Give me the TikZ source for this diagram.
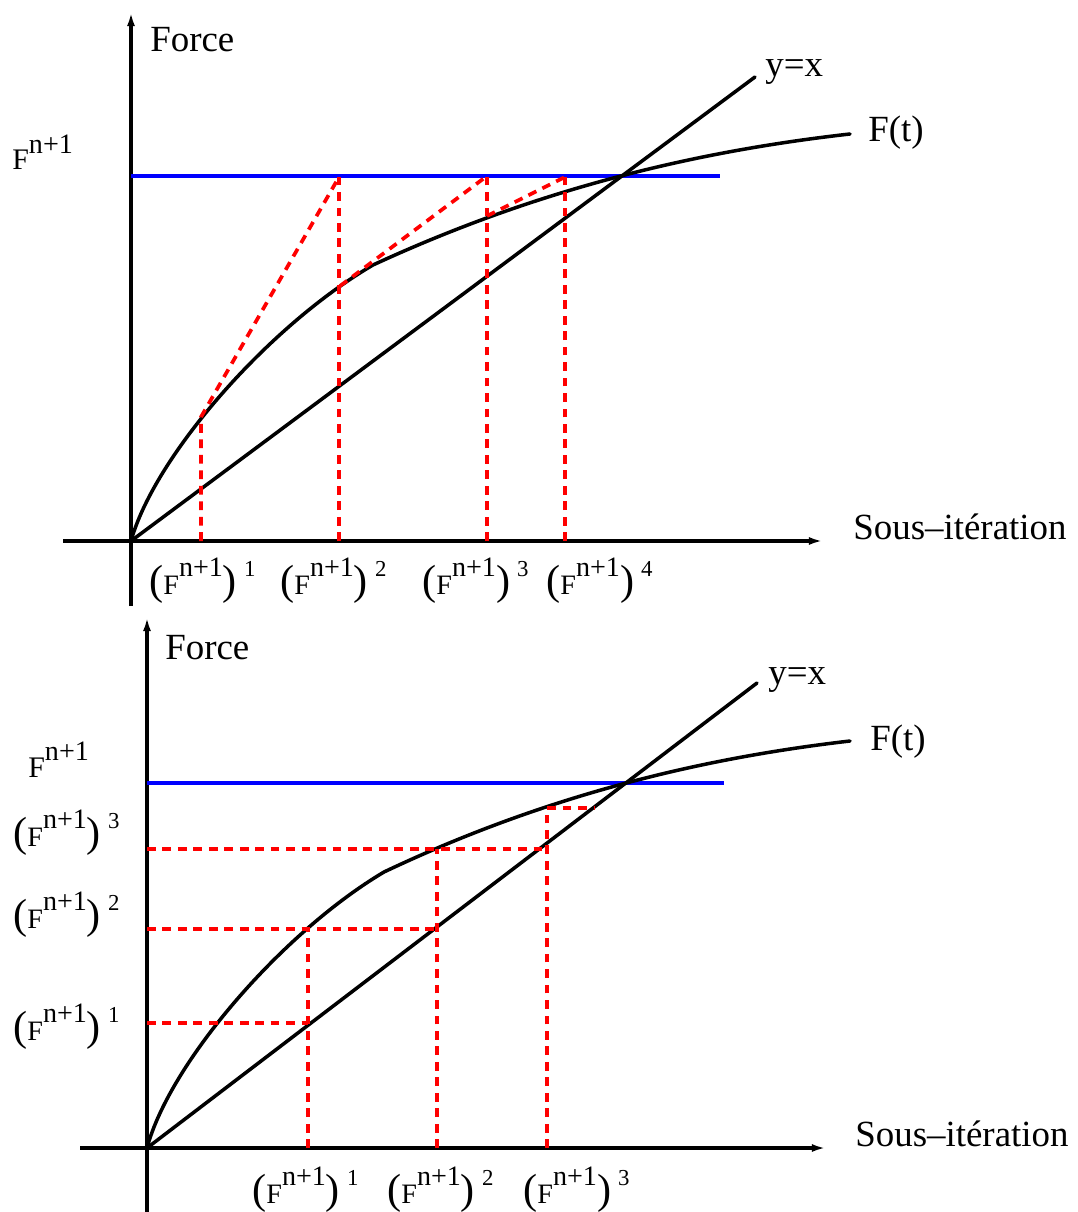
\documentclass[tikz,border=0pt]{standalone}
\usepackage{fontspec}
\setmainfont{Liberation Serif}
\usetikzlibrary{arrows.meta}
% iterate label (F^{n+1})^k and plain F^{n+1}
\newcommand{\Fit}[1]{{\fontsize{24}{24}\selectfont(}{\fontsize{16}{16}\selectfont F}\raisebox{10pt}{\fontsize{16}{16}\selectfont n+1}{\fontsize{24}{24}\selectfont)}\hspace{4pt}\raisebox{10pt}{\fontsize{13}{13}\selectfont #1}}
\newcommand{\Fn}{{\fontsize{17}{17}\selectfont F}\raisebox{9.5pt}{\fontsize{16}{16}\selectfont n+1}}
\begin{document}
\begin{tikzpicture}[x=0.02cm,y=-0.02cm,
    axisArrow/.style={-{Latex[length=8pt,width=4.5pt]},line width=1.8pt},
    curveLine/.style={line width=2pt,line join=round,line cap=round},
    levelLine/.style={blue,line width=2pt},
    iterLine/.style={red,line width=2.1pt,dash pattern=on 5pt off 3.8pt},
    axisLabel/.style={font=\fontsize{21}{25}\selectfont,inner sep=0pt,anchor=base west},
    iterLabel/.style={inner sep=0pt,anchor=base west},
]
\useasboundingbox (0,0) rectangle (1077,1212);
% === top: sous-iterations sur la force ===
\coordinate (O1) at (131,541);
\coordinate (XL1) at (63,541);
\coordinate (XR1) at (823,541);
\coordinate (YB1) at (131,606);
\coordinate (YT1) at (131,12);
\coordinate (BL1) at (131,176);
\coordinate (BR1) at (720,176);
\coordinate (E1) at (755,77);
\coordinate (K1) at (373,265);
\coordinate (T1) at (850,134);
\coordinate (P1) at (201,417);
\coordinate (Q1) at (339,177);
\coordinate (P2) at (340,286);
\coordinate (Q2) at (487,176);
\coordinate (P3) at (487,216);
\coordinate (Q3) at (565,177);
\draw[axisArrow] (XL1) -- (XR1);
\draw[axisArrow] (YB1) -- (YT1);
\draw[levelLine] (BL1) -- (BR1);
\draw[curveLine] (O1) -- (E1);
\draw[curveLine] (O1) .. controls (155,455) and (270,325) .. (K1) .. controls (533,191) and (690,152) .. (T1);
\draw[iterLine] (P1 |- O1) -- (P1) -- (Q1);
\draw[iterLine] (Q1 |- O1) -- (Q1);
\draw[iterLine] (P2) -- (Q2);
\draw[iterLine] (Q2 |- O1) -- (Q2);
\draw[iterLine] (P3) -- (Q3);
\draw[iterLine] (Q3 |- O1) -- (Q3);
\node[axisLabel] (FORCE1) at (150,52) {Force};
\node[iterLabel] (FN1) at (12,170) {\Fn};
\node[axisLabel] (YX1) at (765,77) {y=x};
\node[axisLabel] (FT1) at (868,142) {F(t)};
\node[axisLabel] (SI1) at (853,539) {Sous--itération};
\node[iterLabel] (IT11) at (149,594) {\Fit{1}};
\node[iterLabel] (IT12) at (280,594) {\Fit{2}};
\node[iterLabel] (IT13) at (422,594) {\Fit{3}};
\node[iterLabel] (IT14) at (546,594) {\Fit{4}};
% === bottom: point fixe ===
\coordinate (O2) at (147,1148);
\coordinate (XL2) at (80,1148);
\coordinate (XR2) at (826,1148);
\coordinate (YB2) at (147,1216);
\coordinate (YT2) at (147,617);
\coordinate (BL2) at (147,783);
\coordinate (BR2) at (724,783);
\coordinate (E2) at (757,683);
\coordinate (K2) at (384,872);
\coordinate (T2) at (850,741);
\coordinate (R1) at (308,1023);
\coordinate (S1) at (308,929);
\coordinate (R2) at (437,929);
\coordinate (S2) at (437,849);
\coordinate (R3) at (547,849);
\coordinate (S3) at (547,808);
\coordinate (R4) at (595,808);
\draw[axisArrow] (XL2) -- (XR2);
\draw[axisArrow] (YB2) -- (YT2);
\draw[levelLine] (BL2) -- (BR2);
\draw[curveLine] (O2) -- (E2);
\draw[curveLine] (O2) .. controls (170,1062) and (283,932) .. (K2) .. controls (540,798) and (694,759) .. (T2);
\draw[iterLine] (R1 -| O2) -- (R1);
\draw[iterLine] (S1 |- O2) -- (S1);
\draw[iterLine] (S1 -| O2) -- (R2);
\draw[iterLine] (S2 |- O2) -- (S2);
\draw[iterLine] (S2 -| O2) -- (R3);
\draw[iterLine] (S3 |- O2) -- (S3) -- (R4);
\node[axisLabel] (FORCE2) at (165,659) {Force};
\node[iterLabel] (FN2) at (28,777) {\Fn};
\node[axisLabel] (YX2) at (768,684) {y=x};
\node[axisLabel] (FT2) at (870,750) {F(t)};
\node[axisLabel] (SI2) at (855,1146) {Sous--itération};
\node[iterLabel] (IT23) at (13,846) {\Fit{3}};
\node[iterLabel] (IT22) at (13,928) {\Fit{2}};
\node[iterLabel] (IT21) at (13,1040) {\Fit{1}};
\node[iterLabel] (IT31) at (252,1203) {\Fit{1}};
\node[iterLabel] (IT32) at (387,1203) {\Fit{2}};
\node[iterLabel] (IT33) at (523,1203) {\Fit{3}};
\end{tikzpicture}
\end{document}
